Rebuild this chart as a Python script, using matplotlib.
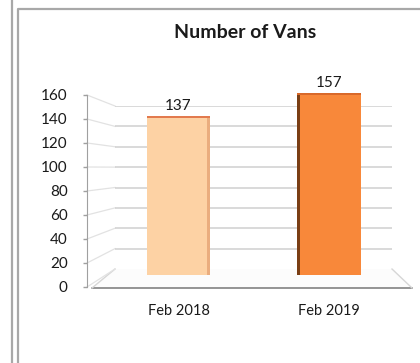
import matplotlib
matplotlib.use("Agg")
import matplotlib.pyplot as plt
from matplotlib.patches import Polygon

# ---------------------------------------------------------------------------
#  Data
# ---------------------------------------------------------------------------
categories = ["Feb 2018", "Feb 2019"]
vans = [137, 157]
y_ticks = [0, 20, 40, 60, 80, 100, 120, 140, 160]
title = "Number of Vans"

bar_colors = ["#FDD2A4", "#F8883A"]
side_colors = ["#D9895A", "#7A3E14"]

W, H = 420, 363
plt.rcParams["font.family"] = ["Lato", "DejaVu Sans"]

fig = plt.figure(figsize=(W / 100, H / 100), dpi=100)
fig.patch.set_facecolor("white")


def px_axes(x0, y0, x1, y1, z=1):
    """Axes placed by pixel box (top-left origin)."""
    ax = fig.add_axes([x0 / W, 1 - y1 / H, (x1 - x0) / W, (y1 - y0) / H])
    ax.set_zorder(z)
    ax.patch.set_alpha(0)
    return ax


# ---------------------------------------------------------------------------
#  Frame, floor and side wall (pixel space)
# ---------------------------------------------------------------------------
deco = px_axes(0, 0, W, H, z=0)
deco.set_xlim(0, W)
deco.set_ylim(H, 0)
deco.axis("off")

deco.plot([11.5, 11.5], [0, H], color="#A8A8A8", lw=1.6)
deco.plot([17.5, 17.5, W], [H, 9, 9], color="#A8A8A8", lw=1.6)

front_y0, front_px = 287, 1.2      # front axis: value 0 at y=287
back_y0, back_px = 269, 1.01875    # back wall: value 0 at y=269
front_x, back_x0, back_x1 = 87, 115, 392

floor = Polygon([(back_x0, back_y0), (back_x1, back_y0), (412, front_y0 + 1),
                 (92, front_y0 + 1)], closed=True, facecolor="#FCFCFC",
                edgecolor="none")
deco.add_patch(floor)
deco.plot([92, 412], [front_y0 + 1, front_y0 + 1], color="#8C8C8C", lw=1.3)
deco.plot([back_x1, 412], [back_y0, front_y0 + 1], color="#D6D6D6", lw=1)
deco.plot([back_x0, 92], [back_y0, front_y0 + 1], color="#D6D6D6", lw=1)

for v in y_ticks:
    deco.plot([front_x, back_x0],
              [front_y0 - v * front_px, back_y0 - v * back_px],
              color="#E2E2E2", lw=0.9)

# back wall gridlines
back = px_axes(back_x0, back_y0 - 160 * back_px, back_x1, back_y0, z=1)
back.set_ylim(0, 160)
back.set_xlim(0, 1)
back.axis("off")
back.hlines(y_ticks[1:], 0, 1, color="#CFCFCF", lw=1.1)

# front value axis
fax = px_axes(front_x, front_y0 - 160 * front_px, front_x + 1, front_y0, z=2)
fax.set_ylim(0, 160)
fax.set_xticks([])
fax.set_yticks(y_ticks)
fax.set_yticklabels([str(v) for v in y_ticks], fontsize=11, color="#1A1A1A")
for s in ["top", "right", "bottom"]:
    fax.spines[s].set_visible(False)
fax.spines["left"].set_color("#A0A0A0")
fax.tick_params(axis="y", length=3, width=1, color="#A0A0A0", pad=11)

# ---------------------------------------------------------------------------
#  Bars
# ---------------------------------------------------------------------------
bx0, bx1, bbase = 92, 412, 275
ax = px_axes(bx0, bbase - 200 * 1.16, bx1, bbase, z=3)
ax.set_ylim(0, 200)
unit = 329 - 178.5
ax.set_xlim(-(178.5 - bx0) / unit, (bx1 - 178.5) / unit)
for s in ax.spines.values():
    s.set_visible(False)
ax.set_yticks([])

xs = list(range(len(categories)))
width = 0.42
bars = ax.bar(xs, vans, width=width, color=bar_colors, zorder=3)

# thin side faces give the 3D look
side_w = 0.02
ax.bar([xs[0] + width / 2 - side_w / 2], [vans[0]], width=side_w,
       color=side_colors[0], alpha=0.5, zorder=4)
ax.bar([xs[1] - width / 2 + side_w / 2], [vans[1]], width=side_w,
       color=side_colors[1], zorder=4)
ax.bar(xs, [1.5, 1.5], bottom=[v - 1.5 for v in vans], width=width,
       color=["#E27A4E", "#D9692A"], zorder=4)

ax.bar_label(bars, labels=[str(v) for v in vans], padding=2, fontsize=11,
             color="#1A1A1A")
ax.set_xticks(xs)
ax.set_xticklabels(categories, fontsize=10.5, color="#1A1A1A")
ax.tick_params(axis="x", length=0, pad=21)

fig.text(245 / W, 1 - 32 / H, title, ha="center", va="center",
         fontsize=14, fontweight="bold", color="#1A1A1A")

fig.savefig("out.png", dpi=100)
